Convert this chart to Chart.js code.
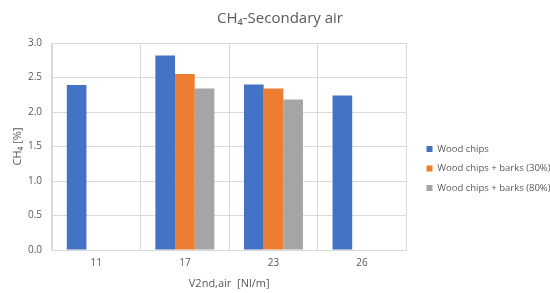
<!DOCTYPE html>
<html><head><meta charset="utf-8">
<script src="https://cdn.jsdelivr.net/npm/chart.js@4/dist/chart.umd.min.js"></script>
<style>html,body{margin:0;padding:0;background:#fff}#wrap{width:550px;height:293px}</style>
</head><body><div id="wrap"><canvas id="c"></canvas></div>
<script>
const categories = ["11", "17", "23", "26"];
const woodChips = [2.39, 2.82, 2.40, 2.24];
const barks30 = [null, 2.55, 2.34, null];
const barks80 = [null, 2.34, 2.18, null];
const seriesNames = ["Wood chips", "Wood chips + barks (30%)", "Wood chips + barks (80%)"];
const yTicks = [0, 0.5, 1.0, 1.5, 2.0, 2.5, 3.0];

const txt = '#595959', grid = '#d9d9d9';
const font = "'Open Sans', 'Liberation Sans', sans-serif";

// Position tweaks applied after Chart.js layout (legend / title placement)
const placement = {
  id: 'placement',
  afterLayout(chart) {
    const lg = chart.legend;
    if (lg) {
      lg.left = 416.5; lg.right = 550; lg.width = 133.5;
      lg.top += 19; lg.bottom += 19;
    }
    const tb = chart.titleBlock;
    if (tb) { tb.left = 10; tb.right = 550; tb.width = 540; }
  }
};

new Chart(document.getElementById('c'), {
  type: 'bar',
  data: {
    labels: categories,
    datasets: [
      {label: seriesNames[0], data: woodChips, backgroundColor: '#4472C4'},
      {label: seriesNames[1], data: barks30, backgroundColor: '#ED7D31'},
      {label: seriesNames[2], data: barks80, backgroundColor: '#A5A5A5'}
    ]
  },
  plugins: [placement],
  options: {
    responsive: true, maintainAspectRatio: false, animation: false,
    devicePixelRatio: 1,
    layout: {padding: {left: 0, right: 0, top: 6, bottom: 0}},
    datasets: {bar: {categoryPercentage: 0.666, barPercentage: 1.0}},
    plugins: {
      title: {display: true, text: 'CH₄-Secondary air', color: txt,
        font: {family: font, size: 15, weight: 'normal'}, padding: {top: 4, bottom: 15}},
      legend: {position: 'right', align: 'center',
        labels: {boxWidth: 6, boxHeight: 6, padding: 10, color: txt,
          font: {family: font, size: 9.5}}},
      tooltip: {enabled: false}
    },
    scales: {
      x: {
        afterFit: s => { s.height = 43; },
        grid: {color: grid, offset: true, drawTicks: false},
        border: {color: grid},
        ticks: {color: txt, font: {family: font, size: 10}, padding: 7},
        title: {display: true, text: 'V2nd,air  [Nl/m]', color: txt,
          font: {family: font, size: 11}, padding: {top: 0, bottom: 3}}
      },
      y: {
        min: 0, max: 3,
        afterFit: s => { s.width = 52; },
        afterBuildTicks: s => { s.ticks = yTicks.map(v => ({value: v})); },
        grid: {color: grid, drawTicks: false},
        border: {color: grid},
        ticks: {color: txt, font: {family: font, size: 10}, padding: 10,
          callback: v => Number(v).toFixed(1)},
        title: {display: true, text: 'CH₄ [%]', color: txt,
          font: {family: font, size: 11}, padding: {top: 11, bottom: 0}}
      },
      gap: {
        type: 'linear', position: 'right', display: true,
        grid: {display: false}, border: {display: false}, ticks: {display: false},
        afterFit: s => { s.width = 52; }
      }
    }
  }
});
</script></body></html>
